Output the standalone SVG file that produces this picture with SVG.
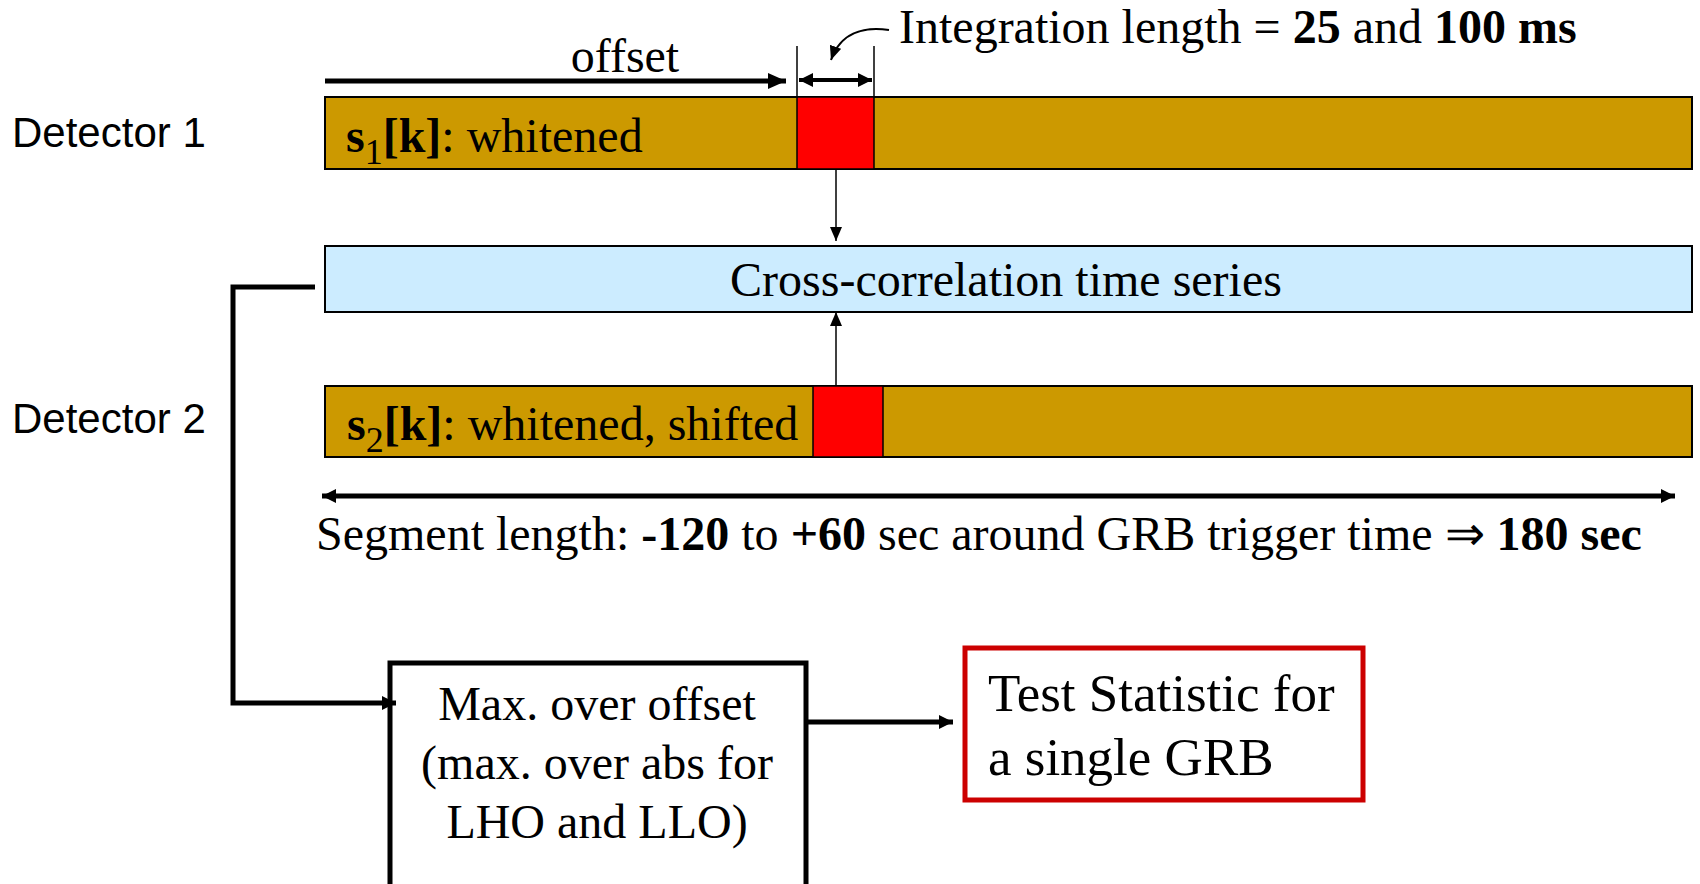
<svg xmlns="http://www.w3.org/2000/svg" width="1700" height="884" viewBox="0 0 1700 884">
<style>
.serif{font-family:"Liberation Serif","Times New Roman",serif;fill:#000}
.sans{font-family:"Liberation Sans",Arial,sans-serif;fill:#000}
.bar{fill:#CC9900;stroke:#000;stroke-width:2}
.win{fill:#FF0000;stroke:#000;stroke-width:1.5}
.b{font-weight:bold}
.ln{stroke:#000;fill:none}
</style>
<defs>
<marker id="big" markerUnits="userSpaceOnUse" markerWidth="18" markerHeight="16" refX="18" refY="8" orient="auto-start-reverse" viewBox="0 0 18 16"><path d="M0,0 L18,8 L0,16 z" fill="#000"/></marker>
<marker id="mid" markerUnits="userSpaceOnUse" markerWidth="14" markerHeight="14" refX="14" refY="7" orient="auto-start-reverse" viewBox="0 0 14 14"><path d="M0,0 L14,7 L0,14 z" fill="#000"/></marker>
<marker id="sm" markerUnits="userSpaceOnUse" markerWidth="14" markerHeight="12" refX="14" refY="6" orient="auto-start-reverse" viewBox="0 0 14 12"><path d="M0,0 L14,6 L0,12 z" fill="#000"/></marker>
</defs>
<rect width="1700" height="884" fill="#fff"/>

<g id="label-detector1"><text class="sans" x="12" y="147" font-size="42">Detector 1</text></g>
<g id="label-detector2"><text class="sans" x="12" y="433" font-size="42">Detector 2</text></g>

<g id="s1-bar">
<rect class="bar" x="325" y="97" width="1367" height="72"/>
<rect class="win" x="797" y="97" width="77" height="72"/>
<text class="serif" x="346" y="152" font-size="48"><tspan class="b">s</tspan><tspan font-size="36" dy="12">1</tspan><tspan class="b" dy="-12">[k]</tspan>: whitened</text>
</g>

<g id="cross-correlation">
<rect x="325" y="246" width="1367" height="66" fill="#CCECFF" stroke="#000" stroke-width="2"/>
<text class="serif" x="1006" y="296" font-size="48" text-anchor="middle">Cross-correlation time series</text>
</g>

<g id="s2-bar">
<rect class="bar" x="325" y="386" width="1367" height="71"/>
<rect class="win" x="813" y="386" width="70" height="71"/>
<text class="serif" x="347" y="440" font-size="48"><tspan class="b">s</tspan><tspan font-size="36" dy="12">2</tspan><tspan class="b" dy="-12">[k]</tspan>: whitened, shifted</text>
</g>

<g id="offset-label"><text class="serif" x="625" y="72" font-size="48" text-anchor="middle">offset</text></g>
<g id="integration-label"><text class="serif" x="899" y="43" font-size="48">Integration length = <tspan class="b">25</tspan> and <tspan class="b">100 ms</tspan></text></g>
<g id="segment-label"><text class="serif" x="316" y="550" font-size="48">Segment length: <tspan class="b">-120</tspan> to <tspan class="b">+60</tspan> sec around GRB trigger time ⇒ <tspan class="b">180 sec</tspan></text></g>

<g id="max-box">
<rect x="390" y="663" width="416" height="260" fill="#fff" stroke="#000" stroke-width="5"/>
<text class="serif" font-size="48" text-anchor="middle"><tspan x="597" y="720">Max. over offset</tspan><tspan x="597" y="779">(max. over abs for</tspan><tspan x="597" y="838">LHO and LLO)</tspan></text>
</g>

<g id="test-statistic">
<rect x="965" y="648" width="398" height="152" fill="#fff" stroke="#CC0000" stroke-width="5"/>
<text class="serif" font-size="53"><tspan x="988" y="711">Test Statistic for</tspan><tspan x="988" y="775">a single GRB</tspan></text>
</g>

<g id="connectors">
<line class="ln" x1="325" y1="81" x2="786" y2="81" stroke-width="5" marker-end="url(#big)"/>
<line class="ln" x1="797" y1="46" x2="797" y2="98" stroke-width="1.5"/>
<line class="ln" x1="874" y1="46" x2="874" y2="98" stroke-width="1.5"/>
<line class="ln" x1="799" y1="80" x2="872" y2="80" stroke-width="4" marker-start="url(#mid)" marker-end="url(#mid)"/>
<path class="ln" d="M889,30 C862,26 840,34 831,60" stroke-width="2" marker-end="url(#sm)"/>
<line class="ln" x1="836" y1="169" x2="836" y2="241" stroke-width="1.5" marker-end="url(#sm)"/>
<line class="ln" x1="836" y1="386" x2="836" y2="312" stroke-width="1.5" marker-end="url(#sm)"/>
<line class="ln" x1="322" y1="496" x2="1675" y2="496" stroke-width="5" marker-start="url(#mid)" marker-end="url(#mid)"/>
<polyline class="ln" points="315,287 233,287 233,703 396,703" stroke-width="5" marker-end="url(#mid)"/>
<line class="ln" x1="806" y1="722" x2="953" y2="722" stroke-width="5" marker-end="url(#mid)"/>
</g>
</svg>
